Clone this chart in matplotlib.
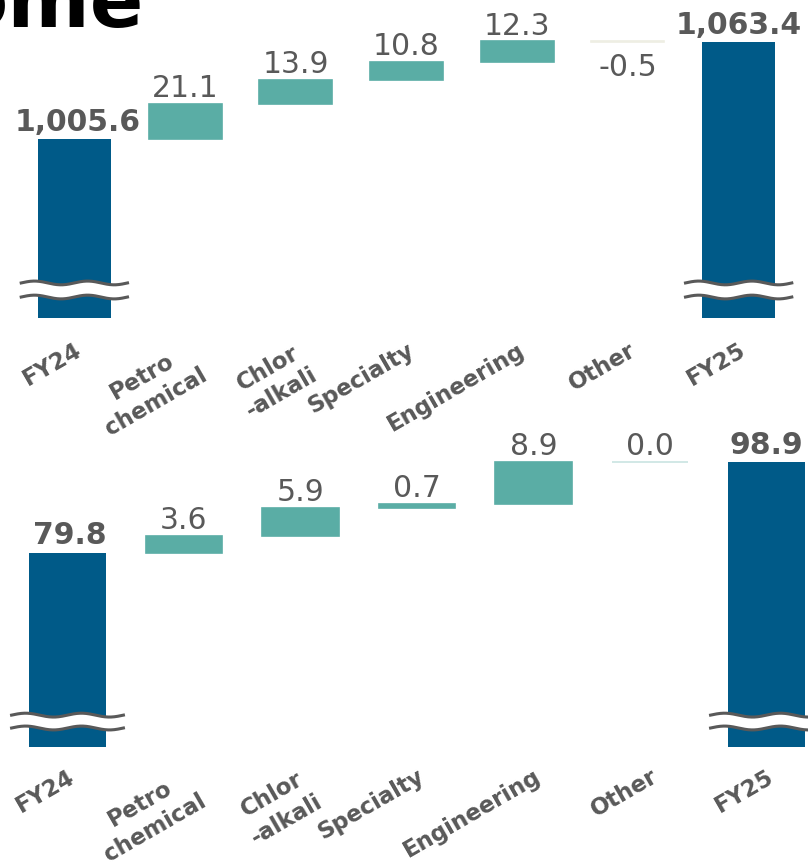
import numpy as np
import matplotlib
matplotlib.use("Agg")
import matplotlib.pyplot as plt
import matplotlib.transforms as mtransforms

categories = ["FY24", "Petro\nchemical", "Chlor\n-alkali", "Specialty",
              "Engineering", "Other", "FY25"]

# top chart (net sales)
top_start = 1005.6
top_changes = [21.1, 13.9, 10.8, 12.3, -0.5]
top_end = 1063.4

# bottom chart (income)
bot_start = 79.8
bot_changes = [3.6, 5.9, 0.7, 8.9, 0.0]
bot_end = 98.9

DARK = "#005a88"
TEAL = "#5aada5"
NEG = "#eeeee3"
ZERO = "#c9e4e1"
GREY = "#595959"

W, H = 808, 865
fig = plt.figure(figsize=(W / 100, H / 100), dpi=100)


def wave(ax, xc, y0, y1, half=0.48):
    tr = mtransforms.blended_transform_factory(ax.transData, ax.transAxes)
    xs = np.linspace(xc - half, xc + half, 200)
    ph = (xs - (xc - half)) / (2 * half) * 4 * np.pi
    amp = 0.006
    lo = y0 + amp * np.sin(ph)
    hi = y1 + amp * np.sin(ph)
    ax.fill_between(xs, lo, hi, color="white", transform=tr, zorder=4,
                    clip_on=False, lw=0)
    ax.plot(xs, lo, color=GREY, lw=2.2, transform=tr, zorder=5, clip_on=False)
    ax.plot(xs, hi, color=GREY, lw=2.2, transform=tr, zorder=5, clip_on=False)


def waterfall(ax, start, changes, end, fmt, wy, pad):
    x = np.arange(len(categories))
    ax.patch.set_visible(False)
    # totals
    ax.bar([x[0], x[-1]], [start, end], width=0.66, color=DARK, zorder=2)
    ax.annotate(fmt.format(start), (x[0], start), xytext=(2, 6),
                textcoords="offset points", ha="center", va="baseline",
                fontsize=21.5, fontweight="bold", color=GREY)
    ax.annotate(fmt.format(end), (x[-1], end), xytext=(0, 6),
                textcoords="offset points", ha="center", va="baseline",
                fontsize=21.5, fontweight="bold", color=GREY)
    # changes
    level = start
    for i, v in enumerate(changes, start=1):
        if v > 0:
            col = TEAL
        elif v < 0:
            col = NEG
        else:
            col = ZERO
        ax.bar(x[i], v, bottom=level, width=0.66, color=col,
               edgecolor=col, linewidth=1.2, zorder=2)
        top = max(level, level + v)
        bot = min(level, level + v)
        if v < 0:
            ax.annotate(fmt.format(v), (x[i], bot), xytext=(0, -8),
                        textcoords="offset points", ha="center", va="top",
                        fontsize=21.5, color=GREY)
        else:
            ax.annotate(fmt.format(v), (x[i], top), xytext=(0, 5),
                        textcoords="offset points", ha="center",
                        va="baseline", fontsize=21.5, color=GREY)
        level += v

    wave(ax, x[0], wy[0], wy[1])
    wave(ax, x[-1], wy[0], wy[1])

    ax.set_xlim(-0.5, len(categories) - 0.5)
    ax.set_xticks(x)
    ax.set_xticklabels(categories, rotation=30, ha="right",
                       rotation_mode="anchor", va="top", fontsize=16.5,
                       fontweight="bold", color=GREY, multialignment="center",
                       linespacing=1.3)
    ax.tick_params(axis="x", length=0, pad=pad)
    ax.set_yticks([])
    for s in ax.spines.values():
        s.set_visible(False)


ax1 = fig.add_axes([19 / W, 1 - 318 / H, 775 / W, 313 / H])
waterfall(ax1, top_start, top_changes, top_end, "{:,.1f}", (0.067, 0.112), 15)
ax1.set_ylim(899.1, 1085.4)

ax2 = fig.add_axes([9.25 / W, 1 - 747 / H, 815.5 / W, 322 / H])
waterfall(ax2, bot_start, bot_changes, bot_end, "{:,.1f}", (0.059, 0.099), 13)
ax2.set_ylim(39.0, 106.65)

fig.text(-46 / W, 1 - 27 / H, "ome", fontsize=57, fontweight="bold",
         color="black", ha="left", va="baseline")

fig.savefig("out.png", dpi=100)
